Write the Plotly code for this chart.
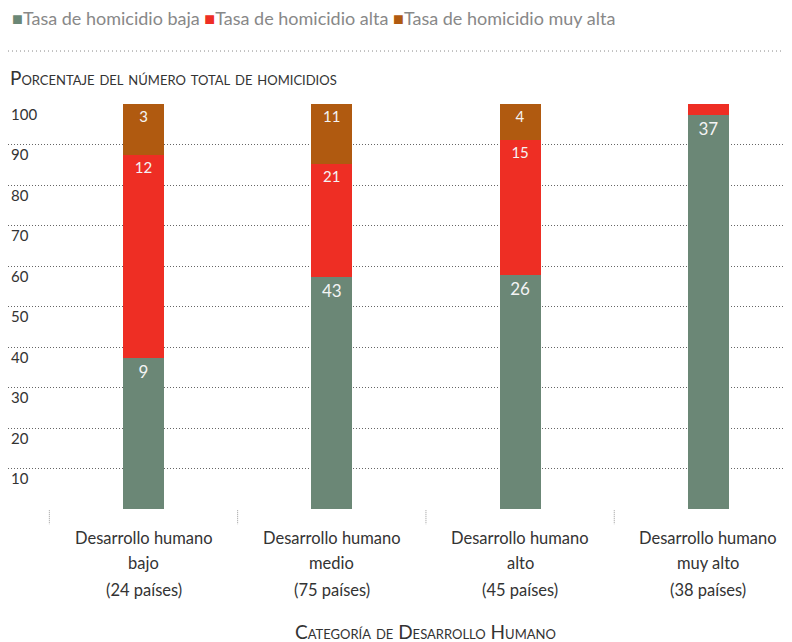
import plotly.graph_objects as go

# ---- data ----
categories = ["Desarrollo humano<br>bajo<br>(24 países)",
              "Desarrollo humano<br>medio<br>(75 países)",
              "Desarrollo humano<br>alto<br>(45 países)",
              "Desarrollo humano<br>muy alto<br>(38 países)"]
series_names = ["Tasa de homicidio baja", "Tasa de homicidio alta", "Tasa de homicidio muy alta"]
pct_baja = [37.4, 57.4, 57.8, 97.3]
pct_alta = [50.0, 27.8, 33.3, 2.7]
pct_muy_alta = [12.6, 14.8, 8.9, 0.0]
n_baja = ["9", "43", "26", "37"]
n_alta = ["12", "21", "15", ""]
n_muy_alta = ["3", "11", "4", ""]
y_ticks = [0, 10, 20, 30, 40, 50, 60, 70, 80, 90, 100]
y_ticktext = ["", "10", "20", "30", "40", "50", "60", "70", "80", "90", "100"]
y_title = "Porcentaje del número total de homicidios"
x_title = "Categoría de Desarrollo Humano"

colors = ["#6b8776", "#ee2e24", "#b05a10"]
FONT = "Lato"
TXT = "#333333"

x_idx = list(range(len(categories)))
fig = go.Figure()
for name, vals, labels, col, fs in zip(series_names,
                                       [pct_baja, pct_alta, pct_muy_alta],
                                       [n_baja, n_alta, n_muy_alta],
                                       colors, [17, 15, 15]):
    fig.add_trace(go.Bar(
        x=x_idx, y=vals, name=name, text=labels,
        marker=dict(color=col, line=dict(width=0)),
        width=0.218,
        textposition="inside", insidetextanchor="end",
        textfont=dict(family=FONT, size=fs, color="#f4f4f4"),
        textangle=0, constraintext="none",
        showlegend=False, hoverinfo="skip",
    ))

fig.update_layout(
    barmode="stack",
    width=784, height=634,
    margin=dict(l=0, r=0, t=96, b=133),
    plot_bgcolor="white", paper_bgcolor="white",
    font=dict(family=FONT, size=16, color=TXT),
    xaxis=dict(range=[-0.7196, 3.444], showticklabels=False, showgrid=False,
               zeroline=False, showline=False, ticks=""),
    yaxis=dict(range=[0, 100], tickvals=y_ticks, ticktext=y_ticktext,
               showgrid=True, gridcolor="#666666", griddash="1px,2px", gridwidth=1,
               zeroline=False, showline=False, ticks="",
               ticklabelposition="inside bottom",
               tickfont=dict(family=FONT, size=15, color=TXT)),
)

# legend as text line
legend_html = " ".join(
    f'<span style="color:{c}">■</span>{n}' for n, c in zip(series_names, colors))
fig.add_annotation(xref="paper", yref="paper", x=0.0026, y=1.2122,
                   xanchor="left", yanchor="middle", showarrow=False,
                   text=legend_html, font=dict(family=FONT, size=18, color="#888888"))
# dotted separator line
fig.add_shape(type="line", xref="paper", yref="paper", x0=0, x1=1, y0=1.1308, y1=1.1308,
              line=dict(color="#888888", width=1, dash="1px,3px"))
# y title
fig.add_annotation(xref="paper", yref="paper", x=0, y=1.0642, xanchor="left",
                   yanchor="middle", showarrow=False, text=y_title,
                   font=dict(family=FONT, size=19, color=TXT, variant="small-caps"))
# category labels
line_y = [-0.0708, -0.1325, -0.1992]
for i, cat in enumerate(categories):
    for j, line in enumerate(cat.split("<br>")):
        fig.add_annotation(xref="x", yref="paper", x=i, y=line_y[j], xanchor="center",
                           yanchor="middle", showarrow=False, text=line,
                           font=dict(family=FONT, size=16.5, color=TXT))
# category separator ticks
for i in range(len(categories)):
    fig.add_shape(type="line", xref="x", yref="paper", x0=i - 0.5, x1=i - 0.5,
                  y0=-0.003, y1=-0.038, line=dict(color="#999999", width=1, dash="1px,1px"))
# x title
fig.add_annotation(xref="paper", yref="paper", x=0.533, y=-0.3027, xanchor="center",
                   yanchor="middle", showarrow=False, text=x_title,
                   font=dict(family=FONT, size=19, color=TXT, variant="small-caps"))

fig.write_html("out.html")
